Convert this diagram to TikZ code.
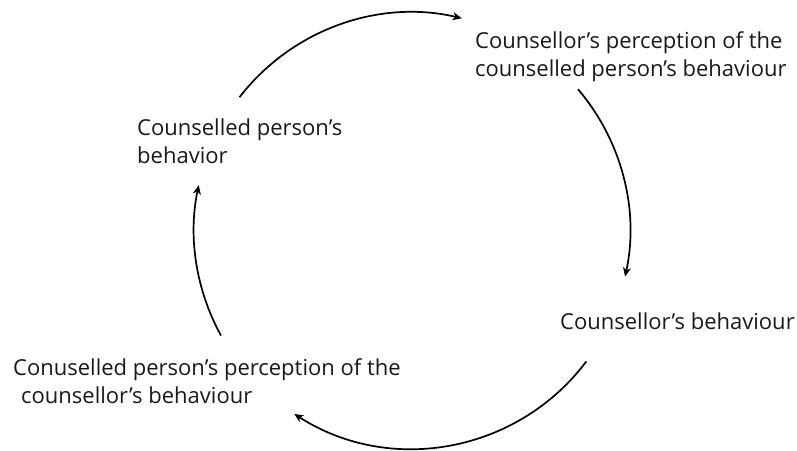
\documentclass[tikz,border=0pt]{standalone}
\usepackage{fontspec}
\setmainfont{Open Sans}
\usetikzlibrary{arrows.meta,calc}
\begin{document}
\begin{tikzpicture}[x=1pt,y=1pt,
  lbl/.style={anchor=base west,inner sep=0pt,align=left,text=black!90,
    font=\fontsize{22pt}{28pt}\selectfont},
  cyc/.style={line width=1.7pt,-{Stealth[length=9pt,width=8pt,inset=2.5pt]}}]
\useasboundingbox (0,0) rectangle (797,450);
\coordinate (C) at (412,219.5);
\def\R{218pt}
% labels (base anchor = baseline of the last line)
\node[lbl] (pcp) at (475,373) {Counsellor’s perception of the\\counselled person’s behaviour};
\node[lbl] (cb) at (560,121) {Counsellor’s behaviour};
\node[lbl] (cpp) at (13,47) {Conuselled person’s perception of the\\\hspace*{8pt}counsellor’s behaviour};
\node[lbl] (cpb) at (137,286) {Counselled person’s\\behavior};
% arc end points
\coordinate (a1) at ($(C)+(142.3:218)$);
\coordinate (b1) at ($(C)+(40.4:218)$);
\coordinate (c1) at ($(C)+(-36.9:218)$);
\coordinate (d1) at ($(C)+(-151.2:218)$);
\draw[cyc] (a1) arc[start angle=142.3,end angle=76.8,radius=\R];
\draw[cyc] (b1) arc[start angle=40.4,end angle=-12.2,radius=\R];
\draw[cyc] (c1) arc[start angle=-36.9,end angle=-122.7,radius=\R];
\draw[cyc] (d1) arc[start angle=-151.2,end angle=-192,radius=\R];
\end{tikzpicture}
\end{document}
